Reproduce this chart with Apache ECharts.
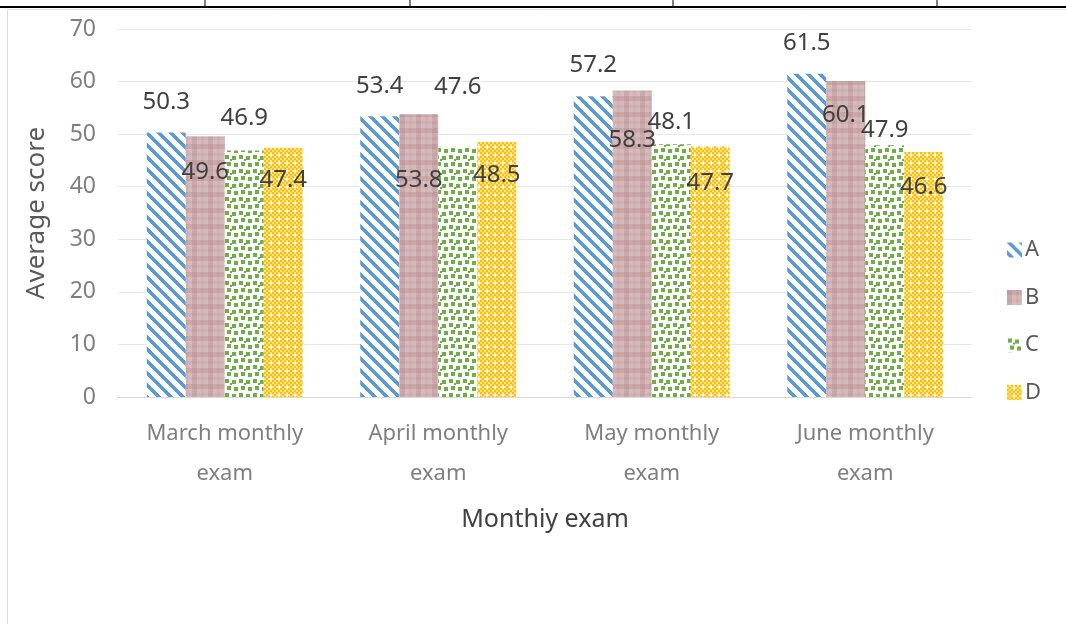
<!DOCTYPE html>
<html>
<head>
<meta charset="utf-8">
<script src="https://cdn.jsdelivr.net/npm/echarts@6/dist/echarts.min.js"></script>
<style>
  html, body { margin: 0; padding: 0; background: #fff; }
  #main { width: 1066px; height: 624px; }
</style>
</head>
<body>
<div id="main"></div>
<script>
var categories = ['March monthly\nexam', 'April monthly\nexam', 'May monthly\nexam', 'June monthly\nexam']
var seriesNames = ['A', 'B', 'C', 'D']
var valuesA = [50.3, 53.4, 57.2, 61.5]
var valuesB = [49.6, 53.8, 58.3, 60.1]
var valuesC = [46.9, 47.6, 48.1, 47.9]
var valuesD = [47.4, 48.5, 47.7, 46.6]
var yTicks = [0, 10, 20, 30, 40, 50, 60, 70]

// label nudges (px), as the labels were dragged by hand in the original
var labelDist = {
  A: [18, 18, 19, 19],
  B: [24, 54, 38, 22],
  C: [20, 48, 10, 3],
  D: [20, 21, 25, 23]
}

function tile(w, h, draw) {
  var c = document.createElement('canvas')
  c.width = w
  c.height = h
  var ctx = c.getContext('2d')
  draw(ctx)
  return { image: c, repeat: 'repeat' }
}

// blue diagonal stripes
var patA = tile(12, 12, function (ctx) {
  ctx.fillStyle = '#fff'
  ctx.fillRect(0, 0, 12, 12)
  ctx.fillStyle = '#5B9BD5'
  for (var y = 0; y < 12; y++) {
    for (var x = 0; x < 12; x++) {
      if (((x - y) % 12 + 12) % 12 < 5) ctx.fillRect(x, y, 1, 1)
    }
  }
})

// pink plaid
var patB = tile(16, 16, function (ctx) {
  ctx.fillStyle = '#D6BBBD'
  ctx.fillRect(0, 0, 16, 16)
  ctx.fillStyle = 'rgba(170,115,120,0.25)'
  ctx.fillRect(0, 0, 5, 16)
  ctx.fillRect(0, 0, 16, 5)
  ctx.fillStyle = 'rgba(170,115,120,0.12)'
  ctx.fillRect(9, 0, 3, 16)
  ctx.fillRect(0, 9, 16, 3)
})

// green confetti
var patC = tile(14, 14, function (ctx) {
  ctx.fillStyle = '#fff'
  ctx.fillRect(0, 0, 14, 14)
  ctx.fillStyle = '#70AD47'
  ctx.fillRect(1, 1, 4, 4)
  ctx.fillRect(8, 2, 4, 4)
  ctx.fillRect(3, 8, 4, 4)
  ctx.fillRect(10, 9, 4, 4)
  ctx.fillRect(6, 5, 2, 2)
})

// yellow small checker
var patD = tile(8, 8, function (ctx) {
  ctx.fillStyle = '#FFE39A'
  ctx.fillRect(0, 0, 8, 8)
  ctx.fillStyle = '#FFC000'
  for (var y = 0; y < 8; y += 2) {
    for (var x = 0; x < 8; x += 2) {
      if ((x + y) % 4 === 0) ctx.fillRect(x, y, 2, 2)
    }
  }
  ctx.fillStyle = '#fff'
  ctx.fillRect(6, 2, 2, 2)
})

var chart = echarts.init(document.getElementById('main'))

function makeSeries(name, values, pat, pos) {
  return {
    name: name,
    type: 'bar',
    barWidth: 39,
    barGap: '0%',
    itemStyle: { color: pat },
    data: values.map(function (v, i) {
      return {
        value: v,
        label: { distance: labelDist[name][i] }
      }
    }),
    label: {
      show: true,
      position: pos,
      color: '#404040',
      fontSize: 24,
      fontFamily: 'Noto Sans'
    }
  }
}

chart.setOption({
  animation: false,
  textStyle: { fontFamily: 'Noto Sans' },
  grid: { left: 118, right: 94, top: 29, bottom: 227 },
  legend: {
    orient: 'vertical',
    right: 20,
    top: 234,
    itemWidth: 15,
    itemHeight: 15,
    itemGap: 25.5,
    icon: 'rect',
    textStyle: { color: '#595959', fontSize: 22, padding: [0, 0, 0, -2] },
    data: seriesNames
  },
  xAxis: {
    type: 'category',
    data: categories,
    name: 'Monthiy exam',
    nameLocation: 'middle',
    nameGap: 110,
    nameTextStyle: { color: '#404040', fontSize: 25 },
    axisLine: { lineStyle: { color: '#d9d9d9' } },
    axisTick: { show: false },
    axisLabel: { color: '#7f7f7f', fontSize: 22, lineHeight: 40, margin: 17 }
  },
  yAxis: {
    type: 'value',
    min: 0,
    max: 70,
    interval: 10,
    name: 'Average score',
    nameLocation: 'middle',
    nameGap: 68,
    nameTextStyle: { color: '#595959', fontSize: 26 },
    axisLine: { show: false },
    axisTick: { show: false },
    splitLine: { lineStyle: { color: '#e6e6e6' } },
    axisLabel: {
      color: '#7f7f7f',
      fontSize: 23,
      margin: 22,
      formatter: function (v) { return yTicks.indexOf(v) >= 0 ? String(v) : '' }
    }
  },
  graphic: [
    { type: 'line', shape: { x1: 0, y1: 7, x2: 1066, y2: 7 }, style: { stroke: '#000', lineWidth: 2 } },
    { type: 'line', shape: { x1: 205, y1: 0, x2: 205, y2: 7 }, style: { stroke: '#000', lineWidth: 1 } },
    { type: 'line', shape: { x1: 410, y1: 0, x2: 410, y2: 7 }, style: { stroke: '#000', lineWidth: 1 } },
    { type: 'line', shape: { x1: 673, y1: 0, x2: 673, y2: 7 }, style: { stroke: '#000', lineWidth: 1 } },
    { type: 'line', shape: { x1: 937, y1: 0, x2: 937, y2: 7 }, style: { stroke: '#000', lineWidth: 1 } },
    { type: 'line', shape: { x1: 7.5, y1: 9.5, x2: 1066, y2: 9.5 }, style: { stroke: '#e3e3e3', lineWidth: 1 } },
    { type: 'line', shape: { x1: 7.5, y1: 9.5, x2: 7.5, y2: 624 }, style: { stroke: '#d9d9d9', lineWidth: 1 } }
  ],
  series: [
    makeSeries('A', valuesA, patA, 'top'),
    makeSeries('B', valuesB, patB, 'insideTop'),
    makeSeries('C', valuesC, patC, 'top'),
    makeSeries('D', valuesD, patD, 'insideTop')
  ]
})
</script>
</body>
</html>
